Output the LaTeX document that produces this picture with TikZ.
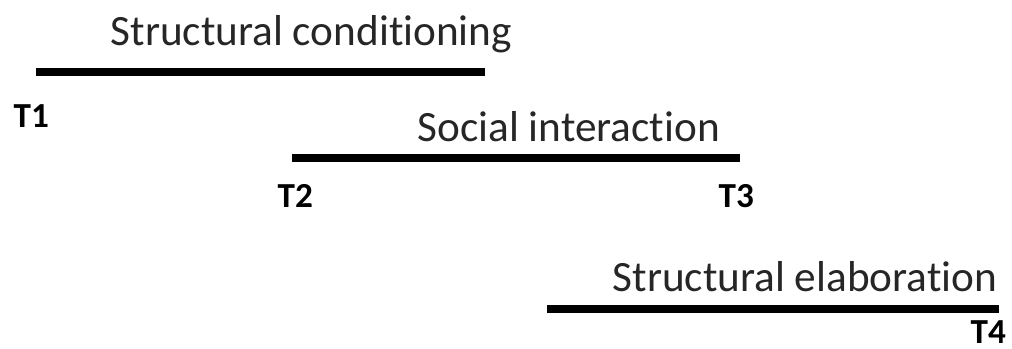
\documentclass[tikz,border=0pt]{standalone}
\usepackage{fontspec}
\setmainfont[Ligatures=NoCommon]{Carlito}
\usetikzlibrary{positioning}

\begin{document}
\begin{tikzpicture}[
  x=0.01cm, y=-0.01cm,
  phase/.style={line width=2.4pt, draw=black},
  phaselabel/.style={anchor=base west, font=\fontsize{12.3}{14}\selectfont, text=black!85, inner sep=0pt},
  tick/.style={anchor=base west, font=\fontsize{10}{12}\selectfont\bfseries, inner sep=0pt}
]
\useasboundingbox (0,0) rectangle (1012,349);

% ── Structural conditioning ──
\coordinate (sc-start) at (36,72);
\coordinate (sc-end) at (485,72);
\draw[phase] (sc-start) -- (sc-end);
\node[phaselabel] (sc-label) at (110,46) {Structural conditioning};
\node[tick] (t1) at (13,128) {T1};

% ── Social interaction ──
\coordinate (si-start) at (292,158);
\coordinate (si-end) at (740,158);
\draw[phase] (si-start) -- (si-end);
\node[phaselabel] (si-label) at (417,142) {Social interaction};
\node[tick] (t2) at (277,208) {T2};
\node[tick] (t3) at (718,208) {T3};

% ── Structural elaboration ──
\coordinate (se-start) at (547,309);
\coordinate (se-end) at (999,309);
\draw[phase] (se-start) -- (se-end);
\node[phaselabel] (se-label) at (612,292) {Structural elaboration};
\node[tick] (t4) at (970,344) {T4};

\end{tikzpicture}
\end{document}
